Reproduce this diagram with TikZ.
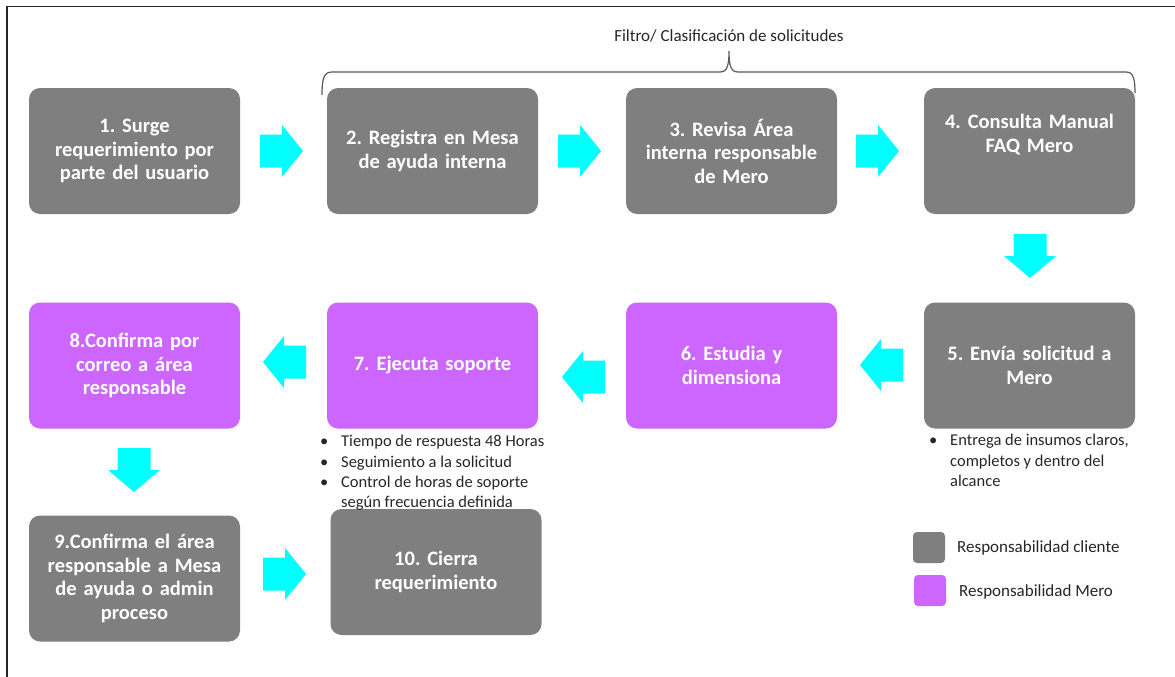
\documentclass[tikz,border=0pt]{standalone}
\usepackage{fontspec}
\setmainfont{Carlito}
\frenchspacing
\definecolor{boxgray}{HTML}{7F7F7F}
\definecolor{boxpurple}{HTML}{CC66FF}
\definecolor{arrowcyan}{HTML}{00FFFF}
\definecolor{inkc}{HTML}{262626}
\definecolor{bracec}{HTML}{595959}
\begin{document}
\begin{tikzpicture}[x=1pt,y=-1pt,
  stepbox/.style={rounded corners=11pt, minimum width=211pt, minimum height=126pt,
    text width=205pt, align=center, text=white, inner sep=0pt,
    font=\bfseries\fontsize{20.5}{23.5}\selectfont},
  client/.style={stepbox, fill=boxgray},
  mero/.style={stepbox, fill=boxpurple},
  boxtext/.style={text width=205pt, align=center, text=white, inner sep=0pt,
    font=\bfseries\fontsize{20.5}{23.5}\selectfont},
  note/.style={font=\fontsize{16.5}{20.3}\selectfont, text=inkc, inner sep=0pt, anchor=north west, align=left},
  legendbox/.style={rounded corners=4pt, minimum width=32pt, minimum height=31pt, inner sep=0pt},
  legendtext/.style={font=\fontsize{17}{20}\selectfont, text=inkc, inner sep=0pt, anchor=west},
  rarrow/.pic={\fill[arrowcyan] (-43,-16.5) -- (-21,-16.5) -- (-21,-26) -- (0,0) -- (-21,26) -- (-21,16.5) -- (-43,16.5) -- cycle;},
  larrow/.pic={\fill[arrowcyan] (43,-16.5) -- (21,-16.5) -- (21,-26) -- (0,0) -- (21,26) -- (21,16.5) -- (43,16.5) -- cycle;},
  darrow/.pic={\fill[arrowcyan] (-16.5,-44) -- (-16.5,-22) -- (-26,-22) -- (0,0) -- (26,-22) -- (16.5,-22) -- (16.5,-44) -- cycle;}
]
\useasboundingbox (0,0) rectangle (1175,677);
% frame
\draw[line width=1.3pt, black!85] (7,677) -- (7,6.5) -- (1175,6.5);

% brace and title
\node[font=\fontsize{17}{20}\selectfont, text=inkc, inner sep=0pt] (title) at (729,36) {Filtro/ Clasificación de solicitudes};
\draw[bracec, line width=1.2pt] (322,95) .. controls (322,78) and (324,72) .. (332,72) -- (720,72)
  .. controls (727,72) and (729,66) .. (729,51) .. controls (729,66) and (731,72) .. (738,72)
  -- (1126,72) .. controls (1133,72) and (1135,78) .. (1135,93);

% row 1
\node[client] (b1) at (134.5,151) {1. Surge\\requerimiento por\\parte del usuario};
\node[client] (b2) at (432.5,151) {2. Registra en Mesa\\de ayuda interna};
\node[client] (b3) at (731.5,151) {3. Revisa Área\\interna responsable\\de Mero};
\node[client] (b4) at (1029.5,151) {};
\node[boxtext] (b4t) at (1029.5,134.5) {4. Consulta Manual\\FAQ Mero};

% row 2
\node[mero] (b8) at (134.5,365.5) {8.Confirma por\\correo a área\\responsable};
\node[mero] (b7) at (432.5,365.5) {7. Ejecuta soporte};
\node[mero] (b6) at (731.5,365.5) {6. Estudia y\\dimensiona};
\node[client] (b5) at (1029.5,365.5) {5. Envía solicitud a\\Mero};

% row 3
\node[client] (b9) at (134.5,578.5) {9.Confirma el área\\responsable a Mesa\\de ayuda o admin\\proceso};
\node[client] (b10) at (436,572) {10. Cierra\\requerimiento};

% block arrows
\pic (a12) at (303,151) {rarrow};
\pic (a23) at (601,151) {rarrow};
\pic (a34) at (899,151) {rarrow};
\pic (a45) at (1030,278) {darrow};
\pic (a56) at (860,365) {larrow};
\pic (a67) at (562,377) {larrow};
\pic (a78) at (263,362) {larrow};
\pic (a89) at (134,492) {darrow};
\pic (a910) at (306,574) {rarrow};

% notes
\node[note] (n7) at (320,432.5) {\begin{tabular}{@{}p{21pt}@{}l@{}}
\textbullet & Tiempo de respuesta 48 Horas\\
\textbullet & Seguimiento a la solicitud\\
\textbullet & Control de horas de soporte\\
 & según frecuencia definida
\end{tabular}};
\node[note] (n5) at (929,431.5) {\begin{tabular}{@{}p{21pt}@{}l@{}}
\textbullet & Entrega de insumos claros,\\
 & completos y dentro del\\
 & alcance
\end{tabular}};

% legend
\node[legendbox, fill=boxgray] (lg1) at (929,547.5) {};
\node[legendtext] (lt1) at (957,548) {Responsabilidad cliente};
\node[legendbox, fill=boxpurple] (lg2) at (930,590.5) {};
\node[legendtext] (lt2) at (959,592) {Responsabilidad Mero};
\end{tikzpicture}
\end{document}
